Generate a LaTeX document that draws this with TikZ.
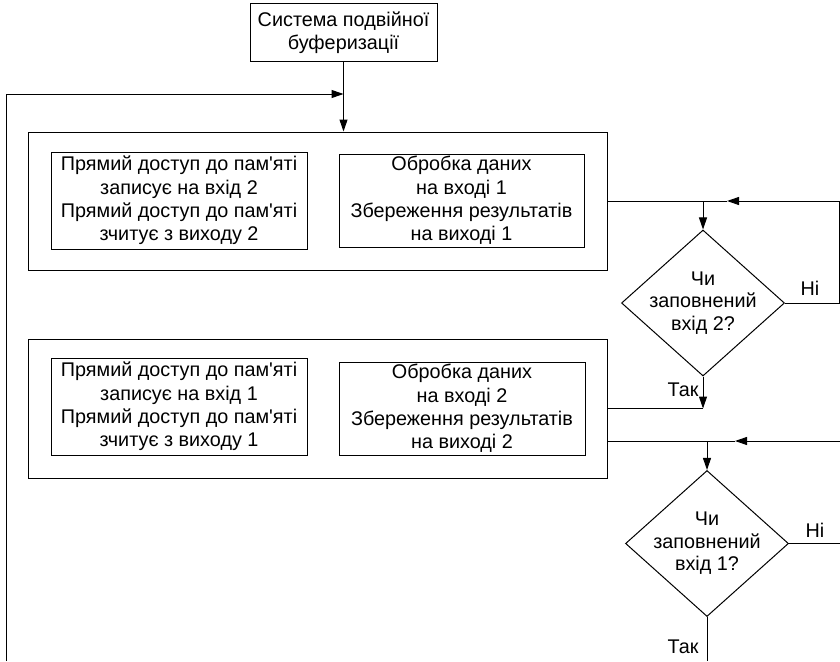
\documentclass[tikz,border=0pt]{standalone}
\usepackage{fontspec}
\setmainfont{Liberation Sans}
\usetikzlibrary{shapes.geometric,arrows.meta,positioning}
\tikzset{b/.style={draw,align=center,inner sep=0pt,font=\fontsize{19.8}{23.4}\selectfont},
 fr/.style={draw,inner sep=0pt,minimum width=579pt},
 d/.style={draw,diamond,aspect=1.12,align=center,inner sep=-5pt,minimum width=163pt,minimum height=146pt,font=\fontsize{19.8}{22.6}\selectfont},
 ar/.style={-{Triangle[length=12pt,width=8pt]}},lb/.style={font=\fontsize{19.8}{22}\selectfont,inner sep=0pt}}
\newcommand{\ap}{\textquotesingle}

\begin{document}
\begin{tikzpicture}[x=1pt,y=-1pt,line width=1pt]
\useasboundingbox (0,0) rectangle (840,661);
\node[b,minimum width=187pt,minimum height=58pt](sys) at (343.5,33){Система подвійної\\буферизації};
% first stage
\node[fr,minimum height=138pt](st1) at (317.5,201){};
\node[b,minimum width=256pt,minimum height=97pt](dma1) at (179,200.5){Прямий доступ до пам\ap яті\\записує на вхід 2\\Прямий доступ до пам\ap яті\\зчитує з виходу 2};
\node[b,minimum width=245pt,minimum height=93pt](proc1) at (461.5,200.5){Обробка даних\\на вході 1\\Збереження результатів\\на виході 1};
% second stage
\node[fr,minimum height=139pt](st2) at (317.5,408.5){};
\node[b,minimum width=256pt,minimum height=97pt](dma2) at (179,406.5){Прямий доступ до пам\ap яті\\записує на вхід 1\\Прямий доступ до пам\ap яті\\зчитує з виходу 1};
\node[b,minimum width=246pt,minimum height=93pt](proc2) at (462,408.5){Обробка даних\\на вході 2\\Збереження результатів\\на виході 2};
% checks
\node[d](q1) at (703,303){Чи\\заповнений\\вхід 2?};
\node[d](q2) at (707,543.5){Чи\\заповнений\\вхід 1?};
\node[lb](no1) at (810,288){Ні};\node[lb](yes1) at (683,390){Так};
\node[lb](no2) at (815,530){Ні};\node[lb](yes2) at (683,647){Так};
\coordinate(lft) at (6,661);\coordinate(back) at (6,94);
\coordinate(r1) at (839,201);\coordinate(k1) at (727,201);
\coordinate(j2) at (707,441);\coordinate(e2) at (840,441);\coordinate(k2) at (735,441);
% connectors
\draw[ar](lft)--(back)--(sys.south|-back);\draw[ar](sys.south)--(sys.south|-st1.north);
\draw[ar](st1.east)-|(q1);\draw[ar](q1.east)-|(r1)--(k1);\draw(k1)--(q1.north|-k1);
\draw[ar](q1)--(q1|-st2.east);\draw(st2.east)--(q1|-st2.east);
\draw(st2.east|-j2)--(j2);\draw[ar](j2)--(q2);\draw[ar](e2)--(k2);\draw(k2)--(j2);
\draw(q2.east)--(q2.east-|e2);\draw(q2)--(q2|-lft);
\end{tikzpicture}
\end{document}
